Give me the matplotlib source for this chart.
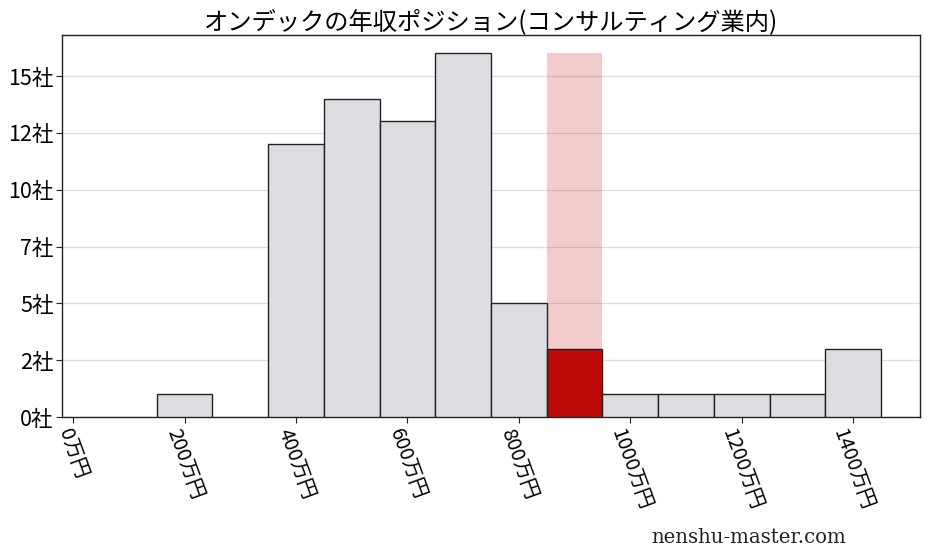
import matplotlib
matplotlib.use("Agg")
import matplotlib.pyplot as plt
import numpy as np

plt.rcParams['font.family'] = ['Noto Sans CJK JP', 'DejaVu Sans']

title = "オンデックの年収ポジション(コンサルティング業内)"
bin_centers = [200, 400, 500, 600, 700, 800, 900, 1000, 1100, 1200, 1300, 1400]
counts = [1, 12, 14, 13, 16, 5, 3, 1, 1, 1, 1, 3]
highlight_center = 900
xticks = [0, 200, 400, 600, 800, 1000, 1200, 1400]
xtick_labels = [f"{v}万円" for v in xticks]
yticks = [0, 2.5, 5, 7.5, 10, 12.5, 15]
ytick_labels = [f"{int(v)}社" for v in yticks]
watermark = "nenshu-master.com"

fig = plt.figure(figsize=(9.28, 5.57), dpi=100)
ax = fig.add_axes([0.0668, 0.2513, 0.9246, 0.6857])

ax.bar([highlight_center], [max(counts)], width=100, color='#d04040',
       alpha=0.27, linewidth=0, zorder=2)
colors = ['#bf0a0a' if c == highlight_center else '#dcdde0' for c in bin_centers]
ax.bar(bin_centers, counts, width=100, color=colors, edgecolor='#222222',
       linewidth=1.0, zorder=3)

ax.set_xlim(-20, 1520)
ax.set_ylim(0, max(counts) * 1.05)
ax.set_xticks(xticks)
ax.set_xticklabels(xtick_labels, rotation=-70, fontsize=14.5)
ax.set_yticks(yticks)
ax.set_yticklabels(ytick_labels, fontsize=15.5)
ax.yaxis.grid(True, color='#dddddd', linewidth=0.9, zorder=0)
ax.set_axisbelow(True)
for s in ax.spines.values():
    s.set_color('#222222')
    s.set_linewidth(1.0)
ax.tick_params(axis='both', length=4, width=0.8, color='#222222', pad=2)

ax.set_title(title, fontsize=17.5, pad=4)
fig.text(0.912, 0.035, watermark, ha='right', va='center', fontsize=14.2,
         family=['DejaVu Serif'], color='#222222')

fig.savefig("out.png", dpi=100)
